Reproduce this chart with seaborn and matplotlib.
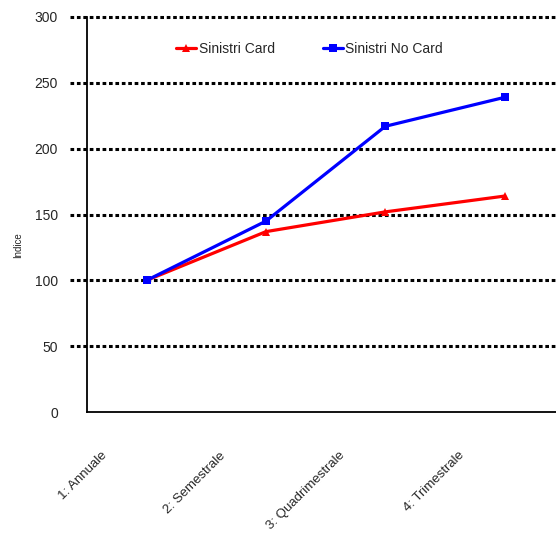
import pandas as pd
import matplotlib
matplotlib.use("Agg")
import matplotlib.pyplot as plt
import matplotlib.transforms as mtransforms
import seaborn as sns

periodi = ["1: Annuale", "2: Semestrale", "3: Quadrimestrale", "4: Trimestrale"]
sinistri_card = [100, 137, 152, 164]
sinistri_no_card = [100, 145, 217, 239]
y_ticks = [0, 50, 100, 150, 200, 250, 300]

df = pd.DataFrame({
    "periodo": periodi * 2,
    "indice": sinistri_card + sinistri_no_card,
    "serie": ["Sinistri Card"] * 4 + ["Sinistri No Card"] * 4,
})

sns.set_style("white")
plt.rcParams["font.family"] = ["Liberation Sans Narrow", "Liberation Sans", "DejaVu Sans"]

fig = plt.figure(figsize=(5.56, 5.52), dpi=100)
ax = fig.add_axes([87 / 556, 1 - 412 / 552, 1 - 87 / 556, 395 / 552])

# griglia tratteggiata, sporge a sinistra dell'asse
for y in y_ticks[1:]:
    ax.axhline(y, xmin=-0.036, xmax=1, color="black", lw=2.2,
               linestyle=(0, (1.2, 0.9)), clip_on=False, zorder=1)

sns.lineplot(data=df, x="periodo", y="indice", hue="serie", style="serie",
             palette={"Sinistri Card": "red", "Sinistri No Card": "blue"},
             markers={"Sinistri Card": "^", "Sinistri No Card": "s"},
             dashes=False, lw=2.3, markersize=6, markeredgewidth=0,
             sort=False, ax=ax, zorder=3)

ax.set_xlim(-0.5, 3.43)
ax.set_ylim(0, 300)
ax.set_yticks(y_ticks)
ax.set_xlabel("")
ax.set_ylabel("")
fig.text(18 / 556, 1 - 245 / 552, "Indice", rotation=90, fontsize=7,
         ha="center", va="center")

for side in ["top", "right"]:
    ax.spines[side].set_visible(False)
for side in ["left", "bottom"]:
    ax.spines[side].set_color("black")
    ax.spines[side].set_linewidth(1.3)

ax.tick_params(axis="y", length=0, pad=21, labelsize=10)
ax.tick_params(axis="x", length=0, pad=30, labelsize=9.5)
offset = mtransforms.ScaledTranslation(-42 / 100, 0, fig.dpi_scale_trans)
for lab in ax.get_xticklabels():
    lab.set_rotation(45)
    lab.set_rotation_mode("anchor")
    lab.set_ha("right")
    lab.set_va("center")
    lab.set_transform(lab.get_transform() + offset)

ax.legend(title=None, loc="center", bbox_to_anchor=(0.475, 0.92), ncol=2,
          frameon=False, fontsize=10, handlelength=1.4, columnspacing=3.5,
          handletextpad=0.2)

plt.savefig("out.png", dpi=100)
